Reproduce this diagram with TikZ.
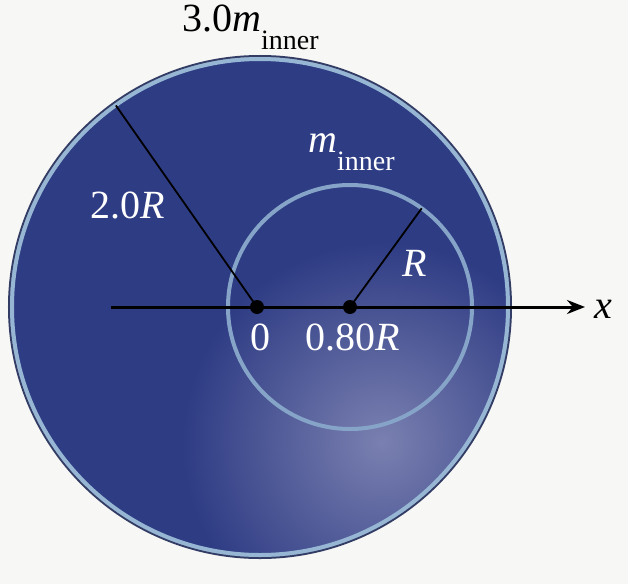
\documentclass[tikz,border=0pt]{standalone}
\usepackage{fontspec}
\setmainfont{Liberation Serif}
\newfontfamily\timesface{Liberation Serif}
\usetikzlibrary{arrows.meta}
\definecolor{diskblue}{RGB}{46,60,132}
\definecolor{glare}{RGB}{122,128,176}
\definecolor{rimblue}{RGB}{150,182,212}
\definecolor{rimdark}{RGB}{50,60,100}
\definecolor{paper}{RGB}{247,247,245}
\newcommand{\lowsub}[1]{\raisebox{-0.45em}{\fontsize{28}{30}\selectfont #1}}
\tikzset{
  big/.style={font=\timesface\fontsize{40}{48}\selectfont, inner sep=0pt},
  lbl/.style={big, text=white},
  dot/.style={circle, fill=black, minimum size=14pt, inner sep=0pt},
}

\begin{document}
\begin{tikzpicture}[x=1pt,y=1pt]
  \fill[paper] (-257,-277) rectangle (371,307);
  \useasboundingbox (-257,-277) rectangle (371,307);
  % outer disk, with the light patch low on the right
  \fill[diskblue] (3,0) circle (250);
  \begin{scope}
    \clip (3,0) circle (250);
    \shade[inner color=glare, outer color=diskblue] (125,-135) circle (200);
  \end{scope}
  \draw[rimdark, line width=2pt] (3,0) circle (251);
  \draw[rimblue, line width=4pt] (3,0) circle (248);
  % inner sphere
  \draw[rimblue!85!diskblue, line width=4pt] (93,0) circle (122);
  % axis and radii
  \coordinate (xl) at (-146,0);
  \coordinate (xr) at (328,0);
  \draw[-{Stealth[length=18pt,width=14pt]}, line width=3pt] (xl) -- (xr);
  \node[dot] (o) at (0,0) {};
  \node[dot] (c) at (93,0) {};
  \coordinate (rimo) at (125:246);
  \path (c.center) ++(54:122) coordinate (rimi);
  \draw[line width=1.8pt] (o.center) -- (rimo);
  \draw[line width=1.8pt] (c.center) -- (rimi);
  % labels
  \node[big, anchor=base west] (mtot) at (-75,275) {3.0\textit{m}\lowsub{inner}};
  \node[lbl] (rout) at (-129,102) {2.0\textit{R}};
  \node[lbl, anchor=base west] (min) at (51,155) {\textit{m}\lowsub{inner}};
  \node[lbl] (rin) at (158,44) {\textit{R}};
  \node[lbl] (l0) at (3,-30) {0};
  \node[lbl] (l08) at (96,-30) {0.80\textit{R}};
  \node[big, anchor=base] (xlab) at (346,-11) {\textit{x}};
\end{tikzpicture}
\end{document}
